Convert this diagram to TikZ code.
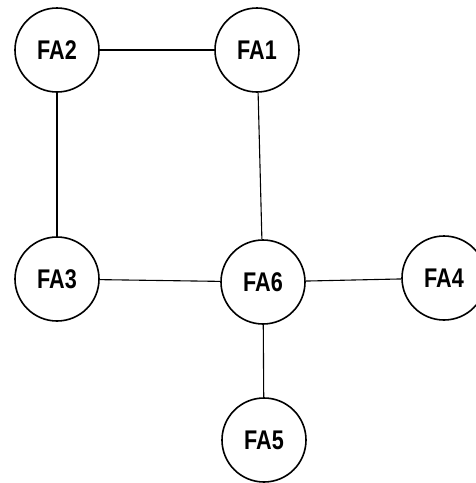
\documentclass[tikz,border=0pt]{standalone}
\usepackage{fontspec}
\newfontfamily\falabel[FakeStretch=0.8]{Liberation Sans}
\usepackage{tikz}

\begin{document}
\begin{tikzpicture}[x=1pt,y=-1pt,
  fa/.style={circle,draw,line width=1.6pt,minimum size=84pt,inner sep=0pt,
    font=\falabel\bfseries\fontsize{27}{30}\selectfont},
  link/.style={line width=1.1pt}]
\useasboundingbox (0,0) rectangle (475,483);
\node[fa] (fa2) at (57,50) {FA2};
\node[fa] (fa1) at (257,50) {FA1};
\node[fa] (fa3) at (57,279) {FA3};
\node[fa] (fa6) at (263,282) {FA6};
\node[fa] (fa4) at (444,278) {FA4};
\node[fa] (fa5) at (264,440) {FA5};
\draw[link] (fa2) -- (fa1);
\draw[link] (fa2) -- (fa3);
\draw[link] (fa1) -- (fa6);
\draw[link] (fa3) -- (fa6);
\draw[link] (fa6) -- (fa4);
\draw[link] (fa6) -- (fa5);
\end{tikzpicture}
\end{document}
